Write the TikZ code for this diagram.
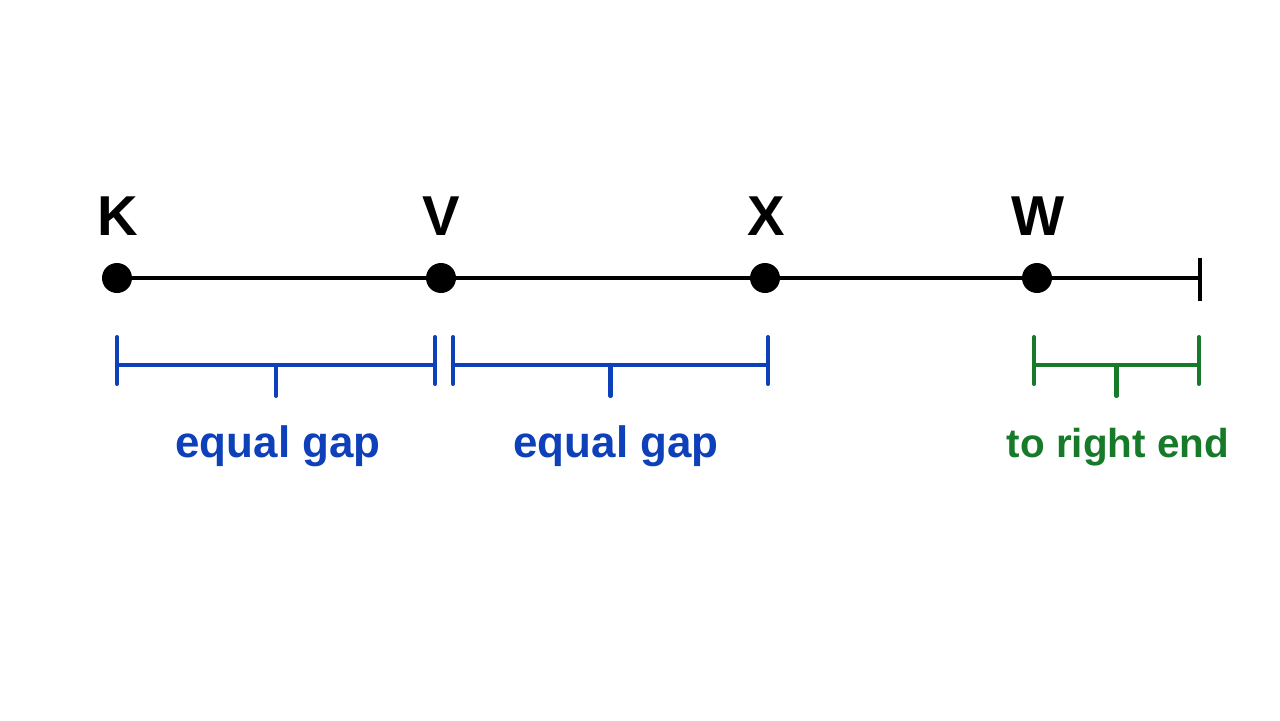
\documentclass[tikz,border=0pt]{standalone}
\usepackage{fontspec}
\setmainfont{Liberation Sans}
\usetikzlibrary{positioning,calc}
\definecolor{gapblue}{RGB}{14,64,186}
\definecolor{endgreen}{RGB}{22,122,40}

\begin{document}
\begin{tikzpicture}[
    x=0.02cm, y=-0.02cm,
    % --- STYLES ---
    pt/.style={circle, fill=black, minimum size=0.6cm, inner sep=0pt},
    ptlabel/.style={font=\fontsize{32}{38}\selectfont\bfseries, anchor=base},
    numline/.style={line width=2.2pt, draw=black},
    bracket/.style={line width=2.3pt, line cap=round},
    gaplabel/.style={font=\fontsize{25}{30}\selectfont\bfseries, anchor=base}
]

\useasboundingbox[fill=white] (0,0) rectangle (1280,720);

% ===== 1. COORDINATES =====
\def\yLine{278}
\def\yLabel{235}
\def\yBar{365}
\def\yText{457}

% ===== 2. POINTS ON THE LINE =====
\coordinate (R) at (1200,\yLine);

\draw[numline] (117,\yLine) coordinate (K0) -- (R);
\draw[numline] ([yshift=0.40cm]R) -- ([yshift=-0.46cm]R);

\node[pt] (K) at (117,\yLine) {};
\node[pt] (V) at (441,\yLine) {};
\node[pt] (X) at (765,\yLine) {};
\node[pt] (W) at (1037,\yLine) {};

\node[ptlabel] (lK) at (118,\yLabel) {K};
\node[ptlabel] (lV) at (441,\yLabel) {V};
\node[ptlabel] (lX) at (766,\yLabel) {X};
\node[ptlabel] (lW) at (1038,\yLabel) {W};

% ===== 3. GAP BRACKETS =====
% K -- V
\coordinate (b1L) at (117,\yBar);
\coordinate (b1R) at (435,\yBar);
\coordinate (b1M) at ($(b1L)!0.5!(b1R)$);
\draw[bracket, gapblue] (b1L) -- (b1R);
\draw[bracket, gapblue] ([yshift=0.56cm]b1L) -- ([yshift=-0.38cm]b1L);
\draw[bracket, gapblue] ([yshift=0.56cm]b1R) -- ([yshift=-0.38cm]b1R);
\draw[bracket, gapblue] (b1M) -- ([yshift=-0.62cm]b1M);

% V -- X
\coordinate (b2L) at (453,\yBar);
\coordinate (b2R) at (768,\yBar);
\coordinate (b2M) at ($(b2L)!0.5!(b2R)$);
\draw[bracket, gapblue] (b2L) -- (b2R);
\draw[bracket, gapblue] ([yshift=0.56cm]b2L) -- ([yshift=-0.38cm]b2L);
\draw[bracket, gapblue] ([yshift=0.56cm]b2R) -- ([yshift=-0.38cm]b2R);
\draw[bracket, gapblue] (b2M) -- ([yshift=-0.62cm]b2M);

% W -- right end
\coordinate (b3L) at (1034,\yBar);
\coordinate (b3R) at (1199,\yBar);
\coordinate (b3M) at ($(b3L)!0.5!(b3R)$);
\draw[bracket, endgreen] (b3L) -- (b3R);
\draw[bracket, endgreen] ([yshift=0.56cm]b3L) -- ([yshift=-0.38cm]b3L);
\draw[bracket, endgreen] ([yshift=0.56cm]b3R) -- ([yshift=-0.38cm]b3R);
\draw[bracket, endgreen] (b3M) -- ([yshift=-0.62cm]b3M);

% ===== 4. TEXTS =====
\node[gaplabel, text=gapblue] (t1) at (278,\yText) {equal gap};
\node[gaplabel, text=gapblue] (t2) at (616,\yText) {equal gap};
\node[gaplabel, text=endgreen, font=\fontsize{23}{28}\selectfont\bfseries] (t3) at (1118,\yText) {to right end};

\end{tikzpicture}
\end{document}
